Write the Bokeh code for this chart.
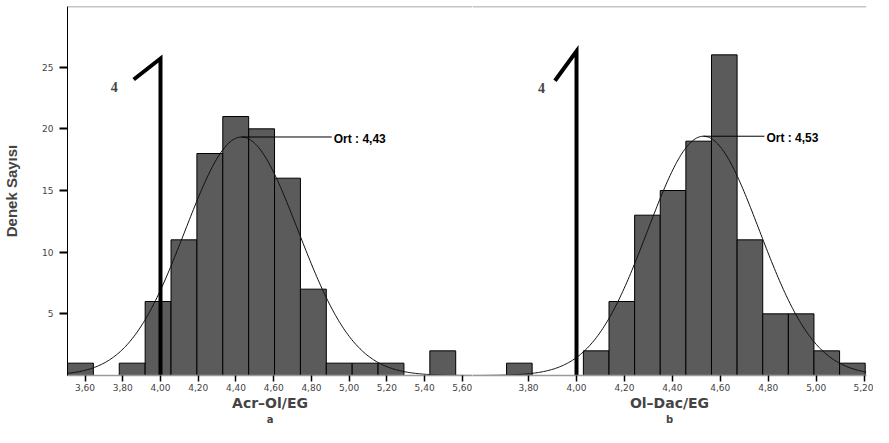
import numpy as np
from bokeh.plotting import figure
from bokeh.models import Range1d, FixedTicker, Span, Label, LinearAxis
from bokeh.layouts import row
from bokeh.embed import file_html
from bokeh.resources import INLINE

# ---------------- data ----------------
# Panel a : Acr-Ol/EG
a_bin_start = 3.507
a_bin_width = 0.1372
a_counts = [1, 0, 1, 6, 11, 18, 21, 20, 16, 7, 1, 1, 1, 0, 2]
a_mean = 4.43
a_sd = 0.30
a_ticks = [3.6, 3.8, 4.0, 4.2, 4.4, 4.6, 4.8, 5.0, 5.2, 5.4, 5.6]
a_tick_labels = ["3,60", "3,80", "4,00", "4,20", "4,40", "4,60", "4,80", "5,00", "5,20", "5,40", "5,60"]

# Panel b : Ol-Dac/EG
b_bin_start = 3.708
b_bin_width = 0.1069
b_counts = [1, 0, 0, 2, 6, 13, 15, 19, 26, 11, 5, 5, 2, 1]
b_mean = 4.53
b_sd = 0.233
b_ticks = [3.8, 4.0, 4.2, 4.4, 4.6, 4.8, 5.0, 5.2]
b_tick_labels = ["3,80", "4,00", "4,20", "4,40", "4,60", "4,80", "5,00", "5,20"]

y_ticks = [5, 10, 15, 20, 25]
threshold = 4.0
mark_a = {"top": 25.7, "hook_x": 3.858, "hook_y": 24.0}
mark_b = {"top": 26.3, "hook_x": 3.91, "hook_y": 23.9}

Y_MAX = 29.92
BAR_FILL = "#5b5b5b"
H = 427


def hist_edges(start, width, counts):
    lefts, rights, tops = [], [], []
    for i, c in enumerate(counts):
        if c > 0:
            lefts.append(start + i * width)
            rights.append(start + (i + 1) * width)
            tops.append(c)
    return lefts, rights, tops


def make_panel(width, x_start, x_end, border_left, border_right, bin_start,
               bin_width, counts, mean, sd, ticks, tick_labels, title, letter,
               mark, ort_x, four_dx, show_y):
    p = figure(width=width, height=H, x_range=Range1d(x_start, x_end),
               y_range=Range1d(0, Y_MAX), output_backend="svg",
               toolbar_location=None, min_border_left=border_left,
               min_border_right=border_right, min_border_top=6,
               min_border_bottom=50)
    p.outline_line_color = None
    p.xgrid.visible = False
    p.ygrid.visible = False

    # bars
    l, r, t = hist_edges(bin_start, bin_width, counts)
    p.quad(left=l, right=r, top=t, bottom=0, fill_color=BAR_FILL,
           line_color="black", line_width=1)

    # fitted normal curve
    n = sum(counts)
    peak = n * bin_width / (sd * np.sqrt(2 * np.pi))
    xs = np.linspace(x_start, x_end, 300)
    ys = peak * np.exp(-0.5 * ((xs - mean) / sd) ** 2)
    p.line(xs, ys, line_color="#111111", line_width=1)

    # mean annotation
    p.line([mean, ort_x], [peak, peak], line_color="black", line_width=1)
    p.add_layout(Label(x=ort_x, y=peak, text="Ort : " + f"{mean:.2f}".replace(".", ","),
                       text_font="Liberation Sans", text_font_style="bold",
                       text_font_size="12px", text_baseline="middle",
                       x_offset=2, y_offset=-2, text_color="black"))

    # threshold mark "4"
    p.line([mark["hook_x"], threshold, threshold], [mark["hook_y"], mark["top"], 0],
           line_color="black", line_width=4, line_join="miter")
    p.add_layout(Label(x=mark["hook_x"], y=mark["hook_y"], text="4",
                       text_font="Liberation Serif", text_font_style="bold",
                       text_font_size="14px", text_align="right",
                       text_baseline="middle", x_offset=four_dx, y_offset=-7))

    # top border
    p.add_layout(Span(location=Y_MAX, dimension="width", line_color="#8a8a8a",
                      line_width=1.5))

    # x axis
    xa = p.xaxis[0]
    xa.ticker = FixedTicker(ticks=ticks)
    xa.major_label_overrides = {tk: lb for tk, lb in zip(ticks, tick_labels)}
    xa.axis_line_color = "#9a9a9a"
    xa.axis_line_width = 1.5
    xa.major_tick_line_color = "black"
    xa.major_tick_line_width = 1.5
    xa.major_tick_out = 6
    xa.major_tick_in = 0
    xa.minor_tick_line_color = None
    xa.major_label_text_font = "DejaVu Sans"
    xa.major_label_text_font_size = "9px"
    xa.major_label_text_color = "#444444"
    xa.major_label_standoff = 2
    xa.axis_label = title
    xa.axis_label_text_font = "DejaVu Sans"
    xa.axis_label_text_font_style = "bold"
    xa.axis_label_text_font_size = "14px"
    xa.axis_label_standoff = 1

    # panel letter, as a tick-less axis below the title
    la = LinearAxis(ticker=FixedTicker(ticks=[]), axis_label=letter,
                    axis_line_color=None, major_tick_line_color=None,
                    minor_tick_line_color=None, major_tick_out=0,
                    major_tick_in=0, minor_tick_out=0, major_label_standoff=0,
                    axis_label_standoff=0, axis_label_text_font="DejaVu Sans",
                    axis_label_text_font_style="bold",
                    axis_label_text_font_size="10px")
    p.add_layout(la, "below")

    ya = p.yaxis[0]
    if show_y:
        ya.ticker = FixedTicker(ticks=y_ticks)
        ya.axis_line_color = "black"
        ya.axis_line_width = 1
        ya.major_tick_line_color = "black"
        ya.major_tick_line_width = 2
        ya.major_tick_out = 8
        ya.major_tick_in = 0
        ya.minor_tick_line_color = None
        ya.major_label_text_font = "DejaVu Sans"
        ya.major_label_text_font_size = "9px"
        ya.major_label_text_color = "#444444"
        ya.major_label_standoff = 6
        ya.axis_label = "Denek Sayısı"
        ya.axis_label_text_font = "Liberation Sans"
        ya.axis_label_text_font_style = "bold"
        ya.axis_label_text_font_size = "15px"
        ya.axis_label_standoff = 19
    else:
        ya.visible = False
    return p


pa = make_panel(472, 3.507, 5.654, 63, 0, a_bin_start, a_bin_width, a_counts,
                a_mean, a_sd, a_ticks, a_tick_labels, "Acr–Ol/EG", "a",
                mark_a, 4.908, -16, True)
pb = make_panel(401, 3.566, 5.21, 0, 7, b_bin_start, b_bin_width, b_counts,
                b_mean, b_sd, b_ticks, b_tick_labels, "Ol–Dac/EG", "b",
                mark_b, 4.784, -10, False)

layout = row(pa, pb, spacing=0)
open("out.html", "w").write(file_html(layout, INLINE))
